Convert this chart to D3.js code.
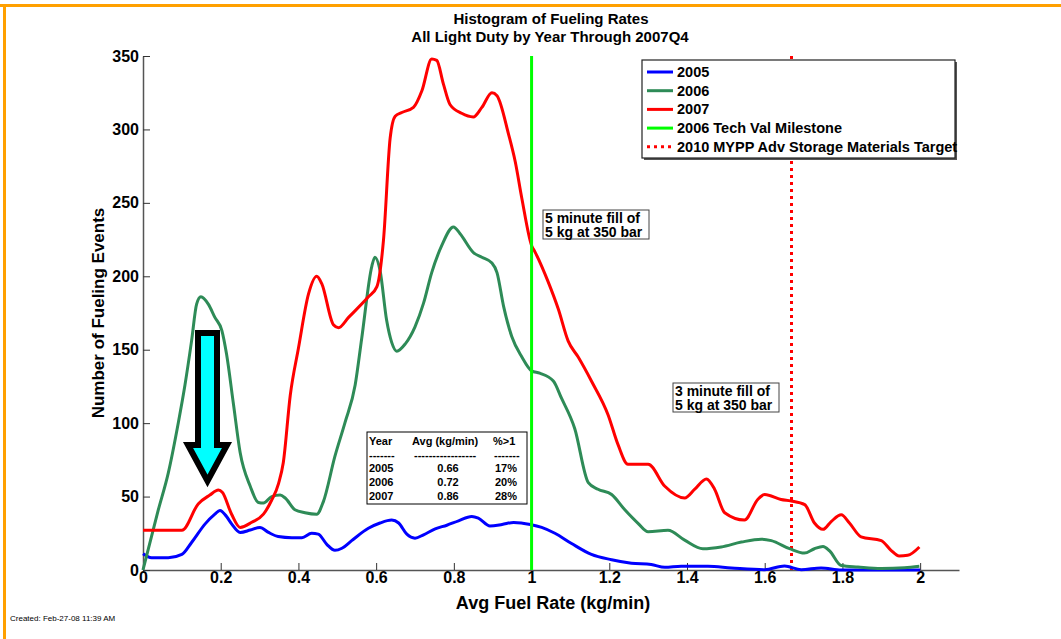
<!DOCTYPE html>
<html>
<head>
<meta charset="utf-8">
<script src="https://cdn.jsdelivr.net/npm/d3@7"></script>
<style>
  body { margin: 0; background: #fff; }
  svg { font-family: Arial, "Liberation Sans", sans-serif; }
  .tick text { font-size: 16px; font-weight: bold; fill: #000; }
  .tick line { stroke: #333; }
  .domain { stroke: #555; stroke-width: 1.5; }
</style>
</head>
<body>
<script>
// values
var rate2005 = [0, 0.022, 0.065, 0.1, 0.125, 0.16, 0.185, 0.198, 0.215, 0.228, 0.25, 0.276, 0.301, 0.323, 0.348, 0.383, 0.409, 0.434, 0.451, 0.473, 0.494, 0.512, 0.537, 0.58, 0.61, 0.64, 0.658, 0.679, 0.7, 0.722, 0.752, 0.782, 0.812, 0.846, 0.863, 0.893, 0.924, 0.954, 0.997, 1.026, 1.06, 1.103, 1.154, 1.206, 1.257, 1.308, 1.343, 1.385, 1.454, 1.514, 1.6, 1.651, 1.694, 1.745, 1.797, 2.0];
var count2005 = [11, 8.3, 8.3, 10.6, 18.7, 31.4, 38, 40.6, 36.4, 31.4, 25.6, 27.2, 29, 25.6, 22.8, 22, 22, 25, 24.4, 17.5, 13.4, 14.8, 20, 28.4, 32, 34, 32, 24.4, 21.7, 24, 28, 30.5, 33.5, 36.4, 35.3, 30, 31, 32.4, 31, 29, 25, 18, 10.6, 7, 4.6, 3.7, 1.8, 2.5, 2.5, 1.4, 0.2, 2.8, 0.2, 1.4, 0, 0];

var rate2006 = [0, 0.039, 0.065, 0.091, 0.108, 0.125, 0.138, 0.149, 0.168, 0.185, 0.203, 0.215, 0.233, 0.25, 0.276, 0.297, 0.31, 0.331, 0.353, 0.366, 0.391, 0.417, 0.447, 0.464, 0.494, 0.52, 0.546, 0.563, 0.589, 0.597, 0.61, 0.627, 0.64, 0.653, 0.675, 0.7, 0.722, 0.743, 0.769, 0.799, 0.816, 0.851, 0.872, 0.898, 0.911, 0.928, 0.949, 0.975, 1.0, 1.021, 1.056, 1.077, 1.111, 1.146, 1.171, 1.206, 1.24, 1.274, 1.3, 1.351, 1.394, 1.441, 1.488, 1.54, 1.591, 1.617, 1.664, 1.702, 1.728, 1.75, 1.767, 1.797, 1.84, 1.9, 1.96, 1.998];
var count2006 = [0, 40.6, 66, 100.5, 126, 156, 181, 186, 181, 172, 163, 147, 112.5, 80, 57, 46, 45.6, 50, 51, 49, 41, 39, 38, 46.4, 77.5, 100.5, 126, 158, 207, 213, 204, 170, 155, 149, 154, 165.6, 181.7, 202.5, 221, 233.6, 229, 216, 213, 209, 202.5, 179.5, 159, 145, 135.6, 134, 128.7, 117, 96.4, 59.5, 55, 51.4, 41, 31.8, 26, 27, 20.3, 14.5, 15.7, 19, 21, 20, 14.5, 11.5, 14.5, 16, 13, 3, 2, 1, 1.5, 2.5];

var rate2007 = [0, 0.1, 0.142, 0.172, 0.194, 0.204, 0.228, 0.25, 0.28, 0.31, 0.331, 0.349, 0.361, 0.379, 0.4, 0.426, 0.447, 0.46, 0.49, 0.503, 0.529, 0.58, 0.602, 0.619, 0.636, 0.649, 0.666, 0.696, 0.718, 0.743, 0.756, 0.773, 0.79, 0.82, 0.85, 0.872, 0.898, 0.911, 0.941, 0.958, 0.975, 1.0, 1.009, 1.043, 1.069, 1.094, 1.12, 1.154, 1.197, 1.223, 1.248, 1.3, 1.343, 1.394, 1.42, 1.45, 1.471, 1.497, 1.548, 1.582, 1.6, 1.642, 1.668, 1.703, 1.728, 1.75, 1.771, 1.797, 1.818, 1.848, 1.9, 1.925, 1.946, 1.968, 1.998];
var count2007 = [27, 27, 45, 51, 54.4, 53, 38, 29, 32.5, 38, 47.5, 59, 73, 119, 151, 188, 200, 195, 167, 165, 172, 186, 193, 225, 294, 309, 311.5, 315, 326.5, 348, 347, 331, 317, 311, 308.5, 315, 325, 323, 296.5, 278, 253, 221, 216.5, 196, 177.5, 156, 145, 128.7, 105.6, 85, 72, 72, 57, 49, 55, 62, 55, 39, 34, 48, 51.4, 48, 47, 44.5, 32, 27.7, 33, 37.6, 32, 22.6, 20, 13.4, 9.5, 10, 15.7];

var seriesNames = ["2005", "2006", "2007"];
var seriesColors = ["#0000ff", "#2e8b57", "#ff0000"];
var legendLabels = ["2005", "2006", "2007", "2006 Tech Val Milestone", "2010 MYPP Adv Storage Materials Target"];

var milestoneRate = 1.0;       // 5 kg in 5 min
var targetRate = 5 / 3;        // 5 kg in 3 min

var xTicks = [0, 0.2, 0.4, 0.6, 0.8, 1, 1.2, 1.4, 1.6, 1.8, 2];
var yTicks = [0, 50, 100, 150, 200, 250, 300, 350];

var tableHeader = ["Year", "Avg (kg/min)", "%>1"];
var tableYears = ["2005", "2006", "2007"];
var tableAvg = ["0.66", "0.72", "0.86"];
var tablePct = ["17%", "20%", "28%"];

var W = 1061, H = 639;
var svg = d3.select("body").append("svg")
    .attr("width", W)
    .attr("height", H);

// orange page border (top and left)
svg.append("rect").attr("x", 0).attr("y", 4).attr("width", W).attr("height", 3).attr("fill", "#ffa000");
svg.append("rect").attr("x", 3).attr("y", 4).attr("width", 3).attr("height", H).attr("fill", "#ffa000");

var xScale = d3.scaleLinear().domain([0, 2.1]).range([143, 959]);
var yScale = d3.scaleLinear().domain([0, 350]).range([570, 56]);

// axes, MATLAB style: ticks pointing inward
var xAxis = d3.axisBottom(xScale).tickValues(xTicks).tickSize(-7).tickSizeOuter(0)
    .tickFormat(function(d) { return d3.format("")(+d.toFixed(1)); });
var yAxis = d3.axisLeft(yScale).tickValues(yTicks).tickSize(-7).tickSizeOuter(0);

svg.append("g")
    .attr("transform", "translate(0," + yScale(0) + ")")
    .call(xAxis)
  .selectAll("text").attr("dy", "0.55em").attr("y", 4);

svg.append("g")
    .attr("transform", "translate(" + xScale(0) + ",0)")
    .call(yAxis)
  .selectAll("text").attr("x", -4);

// axis titles
svg.append("text")
    .attr("x", 553).attr("y", 609)
    .attr("text-anchor", "middle")
    .style("font-family", "'Liberation Sans Narrow', Arial, sans-serif")
    .style("font-size", "18px").style("font-weight", "bold")
    .text("Avg Fuel Rate (kg/min)");

svg.append("text")
    .attr("transform", "translate(104,313) rotate(-90)")
    .attr("text-anchor", "middle")
    .style("font-family", "'Liberation Sans Narrow', Arial, sans-serif")
    .style("font-size", "17px").style("font-weight", "bold")
    .text("Number of Fueling Events");

// title
var title = svg.append("text").attr("text-anchor", "middle")
    .style("font-size", "15px").style("font-weight", "bold");
title.append("tspan").attr("x", 551).attr("y", 24).text("Histogram of Fueling Rates");
title.append("tspan").attr("x", 550).attr("y", 42).text("All Light Duty by Year Through 2007Q4");

// target line (dotted), snapped to the pixel grid so the dots stay bright
var tx = Math.round(xScale(targetRate)) + 0.5;
svg.append("line")
    .attr("x1", tx).attr("x2", tx)
    .attr("y1", yScale(0)).attr("y2", yScale(350))
    .attr("stroke", "#ff0000").attr("stroke-width", 3).attr("stroke-dasharray", "3,4");

// series lines
var line = d3.line()
    .x(function(d) { return xScale(d[0]); })
    .y(function(d) { return yScale(d[1]); })
    .curve(d3.curveMonotoneX);

var allRates = [rate2005, rate2006, rate2007];
var allCounts = [count2005, count2006, count2007];
seriesNames.forEach(function(name, i) {
  svg.append("path")
      .datum(d3.zip(allRates[i], allCounts[i]))
      .attr("fill", "none")
      .attr("stroke", seriesColors[i])
      .attr("stroke-width", 3)
      .attr("stroke-linejoin", "round")
      .attr("d", line);
});

svg.append("line")
    .attr("x1", xScale(milestoneRate)).attr("x2", xScale(milestoneRate))
    .attr("y1", yScale(0)).attr("y2", yScale(350))
    .attr("stroke", "#00ff00").attr("stroke-width", 3);

// legend
var legend = svg.append("g");
legend.append("rect")
    .attr("x", 644).attr("y", 62).attr("width", 313).attr("height", 98)
    .attr("fill", "#555");
legend.append("rect")
    .attr("x", 642).attr("y", 60).attr("width", 313).attr("height", 98)
    .attr("fill", "#fff").attr("stroke", "#222").attr("stroke-width", 1.2);
var legendColors = seriesColors.concat(["#00ff00", "#ff0000"]);
legendLabels.forEach(function(lab, i) {
  var ly = 72 + i * 18.7;
  legend.append("line")
      .attr("x1", 647).attr("x2", 673).attr("y1", ly).attr("y2", ly)
      .attr("stroke", legendColors[i]).attr("stroke-width", 3)
      .attr("stroke-dasharray", i === 4 ? "3,4" : null);
  legend.append("text")
      .attr("x", 677).attr("y", ly + 5)
      .style("font-size", "14.5px").style("font-weight", "bold")
      .text(lab);
});

// text boxes
function noteBox(x, y, w, h, lines) {
  var g = svg.append("g");
  g.append("rect").attr("x", x).attr("y", y).attr("width", w).attr("height", h)
      .attr("fill", "#fff").attr("stroke", "#444").attr("stroke-width", 1);
  lines.forEach(function(t, i) {
    g.append("text").attr("x", x + 2).attr("y", y + 13 + i * 14)
        .style("font-size", "14px").style("font-weight", "bold").text(t);
  });
}
noteBox(543, 210, 106, 29, ["5 minute fill of", "5 kg at 350 bar"]);
noteBox(673, 383, 106, 29, ["3 minute fill of", "5 kg at 350 bar"]);

// summary table
var tg = svg.append("g").style("font-size", "11px").style("font-weight", "bold");
tg.append("rect").attr("x", 367).attr("y", 432).attr("width", 160).attr("height", 72)
    .attr("fill", "#fff").attr("stroke", "#000").attr("stroke-width", 1);
tg.append("text").attr("x", 369).attr("y", 445).text(tableHeader[0]);
tg.append("text").attr("x", 412).attr("y", 445).text(tableHeader[1]);
tg.append("text").attr("x", 493).attr("y", 445).text(tableHeader[2]);
tg.append("text").attr("x", 369).attr("y", 459).text("-------");
tg.append("text").attr("x", 414).attr("y", 459).text("-----------------");
tg.append("text").attr("x", 494).attr("y", 459).text("-------");
tableYears.forEach(function(yr, i) {
  var ty = 472 + i * 14;
  tg.append("text").attr("x", 369).attr("y", ty).text(yr);
  tg.append("text").attr("x", 448).attr("y", ty).attr("text-anchor", "middle").text(tableAvg[i]);
  tg.append("text").attr("x", 517).attr("y", ty).attr("text-anchor", "end").text(tablePct[i]);
});

// arrow
var arrowPts = [[198, 333], [217, 333], [217, 445], [227, 445], [207.5, 481], [188, 445], [198, 445]];
svg.append("polygon")
    .attr("points", arrowPts.map(function(p) { return p.join(","); }).join(" "))
    .attr("fill", "#00ffff").attr("stroke", "#000").attr("stroke-width", 6)
    .attr("stroke-linejoin", "miter");

// footer
svg.append("text").attr("x", 10).attr("y", 621)
    .style("font-size", "8px").text("Created: Feb-27-08 11:39 AM");
</script>
</body>
</html>
